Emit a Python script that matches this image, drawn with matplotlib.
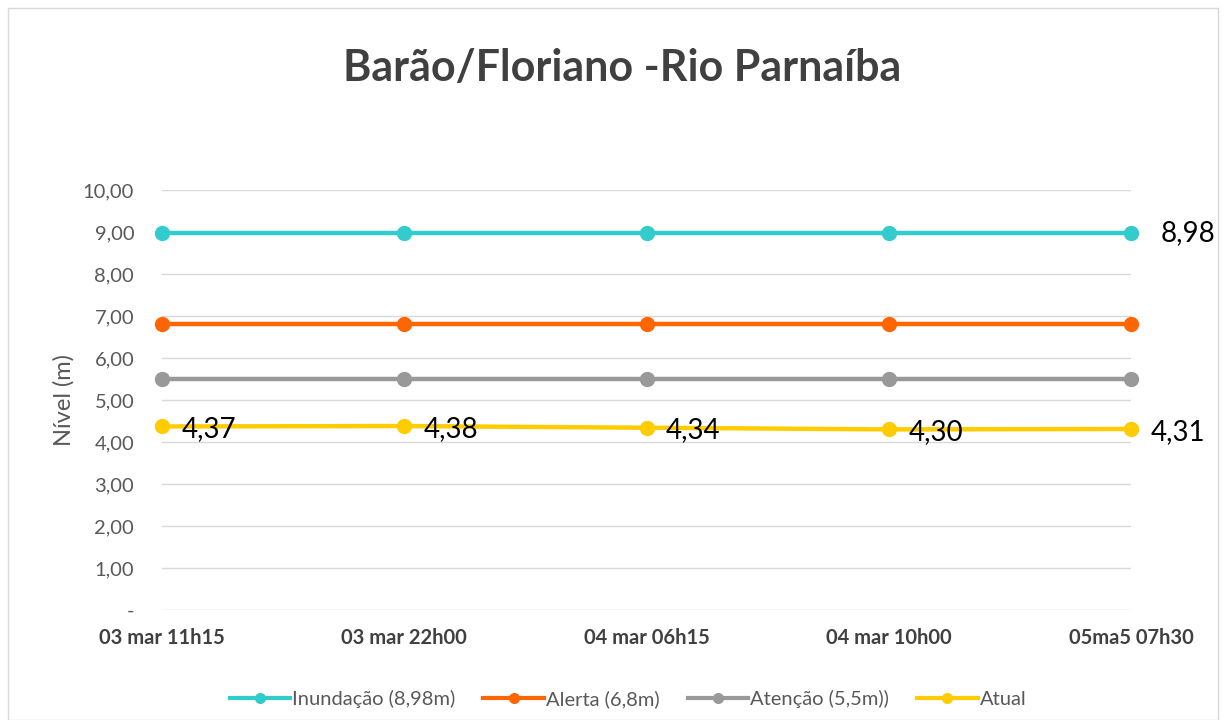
import matplotlib
matplotlib.use("Agg")
import matplotlib.pyplot as plt
from matplotlib.patches import Rectangle

categories = ["03 mar 11h15", "03 mar 22h00", "04 mar 06h15", "04 mar 10h00", "05ma5 07h30"]
inundacao = [8.98, 8.98, 8.98, 8.98, 8.98]
alerta = [6.8, 6.8, 6.8, 6.8, 6.8]
atencao = [5.5, 5.5, 5.5, 5.5, 5.5]
atual = [4.37, 4.38, 4.34, 4.30, 4.31]
yticks = [0, 1, 2, 3, 4, 5, 6, 7, 8, 9, 10]

plt.rcParams['font.family'] = ['Lato', 'DejaVu Sans']

fig = plt.figure(figsize=(12.24, 7.2), dpi=100)
ax = fig.add_axes([162/1224, 1-610/720, (1131-162)/1224, (610-190)/720])

x = list(range(len(categories)))
series = [
    (inundacao, "#33CCCC", "Inundação (8,98m)"),
    (alerta, "#FF6600", "Alerta (6,8m)"),
    (atencao, "#999999", "Atenção (5,5m))"),
    (atual, "#FFCC00", "Atual"),
]
for vals, col, lab in series:
    ax.plot(x, vals, color=col, lw=3.2, marker='o', ms=10, label=lab, clip_on=False, zorder=3)

ax.set_xlim(0, len(categories) - 1)
ax.set_ylim(0, 10)
ax.set_yticks(yticks)
ax.set_yticklabels(["-" if v == 0 else f"{v:.2f}".replace(".", ",") for v in yticks],
                   fontsize=14.5, color="#595959")
ax.set_xticks(x)
ax.set_xticklabels(categories, fontsize=14.5, fontweight='bold', color="#404040")
ax.tick_params(axis='both', length=0)
ax.tick_params(axis='y', pad=20)
ax.tick_params(axis='x', pad=13)
ax.grid(axis='y', color="#D9D9D9", lw=1)
ax.set_axisbelow(True)
for s in ax.spines.values():
    s.set_visible(False)

ax.set_ylabel("Nível (m)", fontsize=17, color="#595959", labelpad=6)

# data labels
ax.annotate(f"{inundacao[-1]:.2f}".replace(".", ","), (x[-1], inundacao[-1]),
            xytext=(21, 0), textcoords='offset points', va='center', ha='left',
            fontsize=20, color='black')
for i, v in enumerate(atual):
    ax.annotate(f"{v:.2f}".replace(".", ","), (x[i], v),
                xytext=(14, -2), textcoords='offset points', va='center', ha='left',
                fontsize=20, color='black', zorder=4)

fig.suptitle("Barão/Floriano -Rio Parnaíba", fontsize=31, fontweight='bold',
             color="#404040", x=622/1224, y=1-68/720, va='center')

leg = fig.legend(loc='center', bbox_to_anchor=(628/1224, 1-699/720), ncol=4,
                 frameon=False, fontsize=14.5, handlelength=3.0, columnspacing=1.4,
                 handletextpad=0.1, labelcolor="#595959", markerscale=0.7)
for h in leg.legend_handles:
    h.set_linewidth(3)

fig.add_artist(Rectangle((8/1224, 0), (1218-8)/1224, 1-8/720, transform=fig.transFigure,
                         fill=False, edgecolor="#D9D9D9", lw=1))

fig.savefig("out.png", dpi=100)
